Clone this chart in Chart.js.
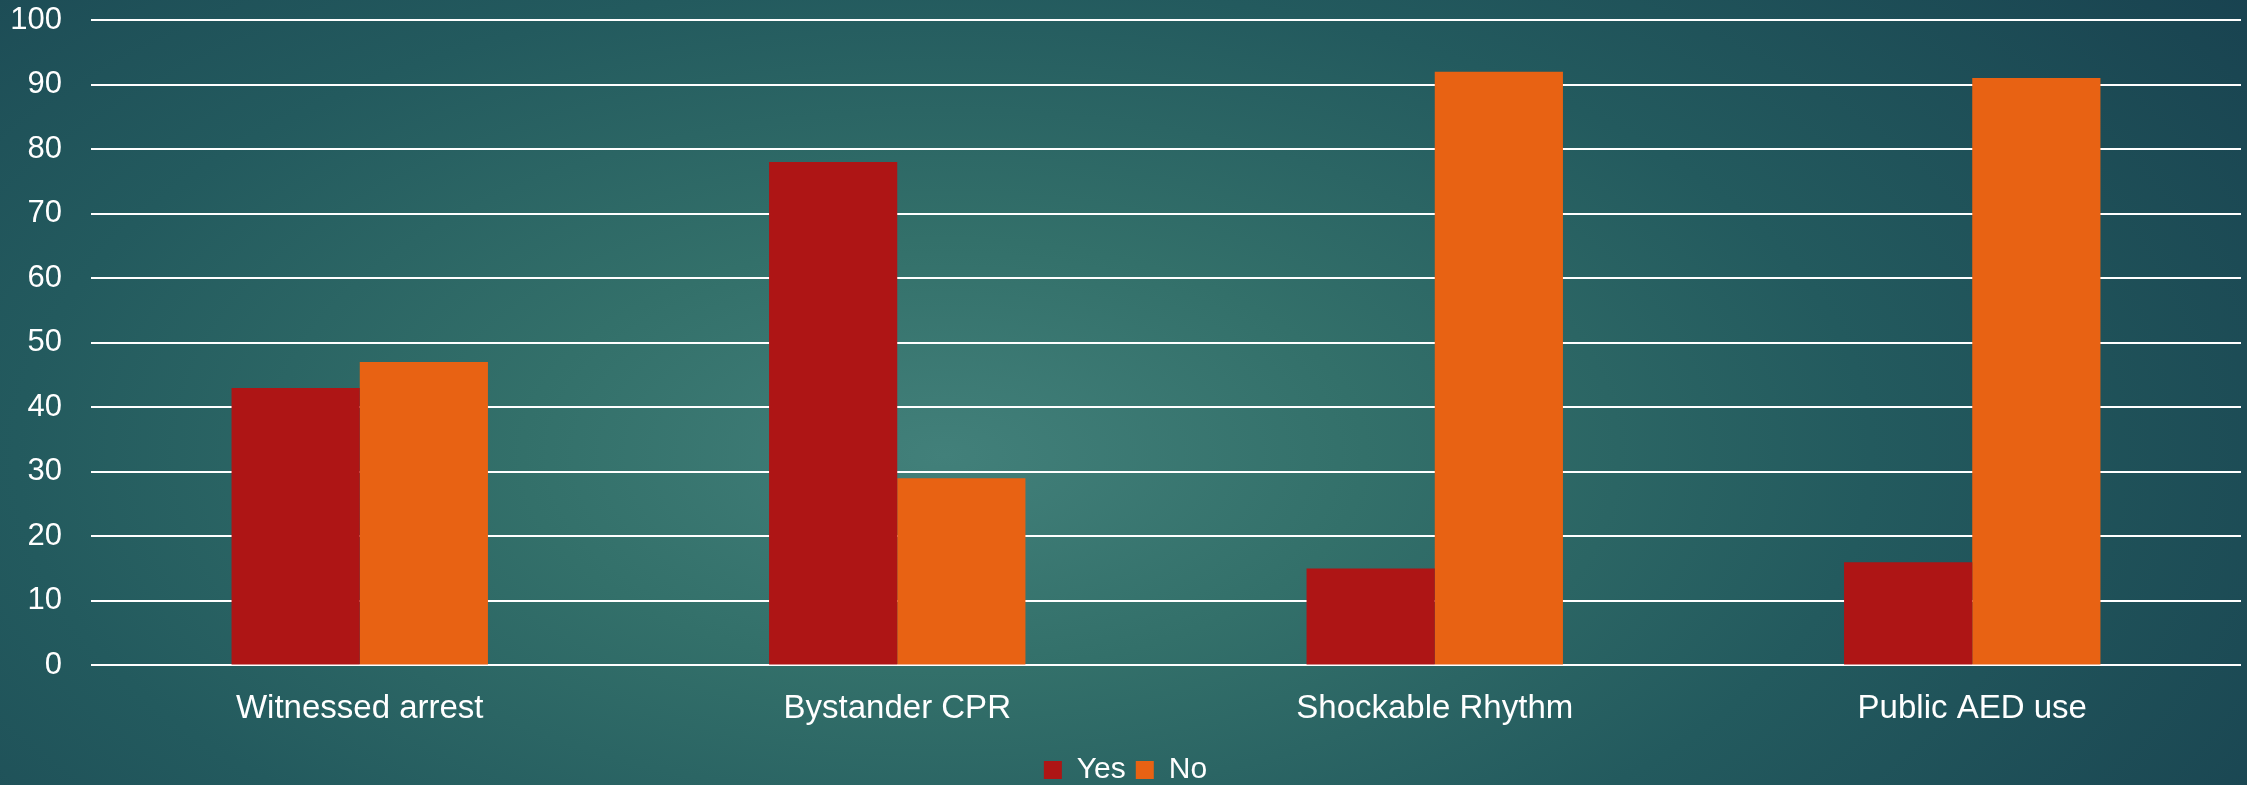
<!DOCTYPE html>
<html>
<head>
<meta charset="utf-8">
<script src="https://cdn.jsdelivr.net/npm/chart.js@4"></script>
<style>
  html, body {
    margin: 0;
    width: 2247px;
    height: 785px;
    overflow: hidden;
  }
  body {
    background: radial-gradient(ellipse 75% 110% at 42% 58%, #42807a 0%, #33706a 25%, #235a5e 55%, #173f4e 100%);
  }
  #wrap { width: 2247px; height: 795px; }
</style>
</head>
<body>
<div id="wrap"><canvas id="chart"></canvas></div>
<script>
// categories and series
const categories = ["Witnessed arrest", "Bystander CPR", "Shockable Rhythm", "Public AED use"];
const yesValues = [43, 78, 15, 16];
const noValues = [47, 29, 92, 91];
const seriesNames = ["Yes", "No"];

const font = "'Liberation Sans', Arial, sans-serif";

new Chart(document.getElementById("chart"), {
  type: "bar",
  data: {
    labels: categories,
    datasets: [
      { label: seriesNames[0], data: yesValues, backgroundColor: "#ae1515" },
      { label: seriesNames[1], data: noValues, backgroundColor: "#e86213" },
    ],
  },
  options: {
    responsive: true,
    maintainAspectRatio: false,
    animation: false,
    datasets: { bar: { categoryPercentage: 0.477, barPercentage: 1.0 } },
    layout: { padding: { top: 20, left: 10, right: 6, bottom: 0 } },
    plugins: {
      tooltip: { enabled: false },
      legend: {
        position: "bottom",
        labels: {
          color: "#ffffff",
          font: { family: font, size: 30 },
          boxWidth: 18,
          boxHeight: 18,
          padding: 10,
        },
      },
    },
    scales: {
      x: {
        grid: { display: false },
        border: { display: false },
        ticks: { color: "#ffffff", font: { family: font, size: 33 }, padding: 16 },
      },
      y: {
        min: 0,
        max: 100,
        ticks: { stepSize: 10, color: "#ffffff", font: { family: font, size: 31 }, padding: 29 },
        grid: { color: "#ffffff", lineWidth: 2, drawTicks: false },
        border: { display: false },
        // keep the label column as narrow as in the picture, and let the top label overhang
        afterFit: (scale) => {
          scale.width = 81;
          scale.paddingTop = 0;
        },
      },
    },
  },
});
</script>
</body>
</html>
